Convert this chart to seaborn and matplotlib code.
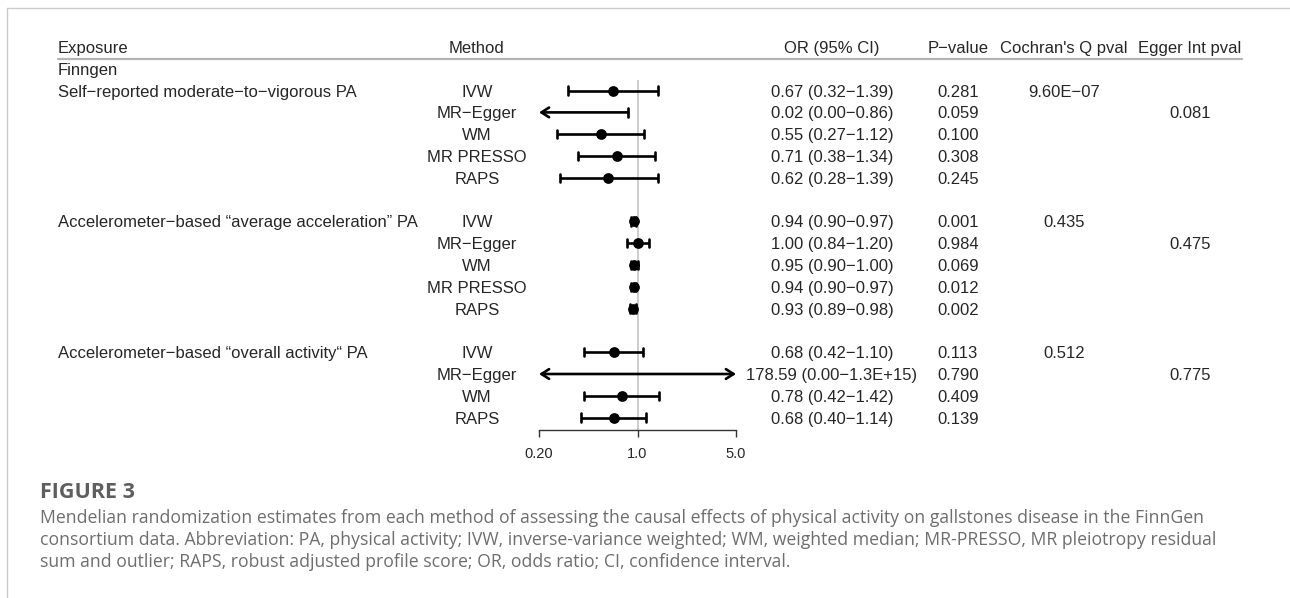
import numpy as np
import pandas as pd
import matplotlib.pyplot as plt
import seaborn as sns
from matplotlib.lines import Line2D
from matplotlib.transforms import blended_transform_factory

# Daten aus der Abbildung (Forest-Plot, MR-Schätzer)
exposures = ["Self\u2212reported moderate\u2212to\u2212vigorous PA",
             "Accelerometer\u2212based \u201caverage acceleration\u201d PA",
             "Accelerometer\u2212based \u201coverall activity\u201c PA"]
methods = [["IVW", "MR\u2212Egger", "WM", "MR PRESSO", "RAPS"],
           ["IVW", "MR\u2212Egger", "WM", "MR PRESSO", "RAPS"],
           ["IVW", "MR\u2212Egger", "WM", "RAPS"]]
or_vals = [[0.67, 0.02, 0.55, 0.71, 0.62],
           [0.94, 1.00, 0.95, 0.94, 0.93],
           [0.68, 178.59, 0.78, 0.68]]
ci_low = [[0.32, 0.00, 0.27, 0.38, 0.28],
          [0.90, 0.84, 0.90, 0.90, 0.89],
          [0.42, 0.00, 0.42, 0.40]]
ci_high = [[1.39, 0.86, 1.12, 1.34, 1.39],
           [0.97, 1.20, 1.00, 0.97, 0.98],
           [1.10, 1.3e15, 1.42, 1.14]]
ci_labels = [["0.67 (0.32\u22121.39)", "0.02 (0.00\u22120.86)", "0.55 (0.27\u22121.12)",
              "0.71 (0.38\u22121.34)", "0.62 (0.28\u22121.39)"],
             ["0.94 (0.90\u22120.97)", "1.00 (0.84\u22121.20)", "0.95 (0.90\u22121.00)",
              "0.94 (0.90\u22120.97)", "0.93 (0.89\u22120.98)"],
             ["0.68 (0.42\u22121.10)", "178.59 (0.00\u22121.3E+15)", "0.78 (0.42\u22121.42)",
              "0.68 (0.40\u22121.14)"]]
p_values = [["0.281", "0.059", "0.100", "0.308", "0.245"],
            ["0.001", "0.984", "0.069", "0.012", "0.002"],
            ["0.113", "0.790", "0.409", "0.139"]]
cochran_q = ["9.60E\u221207", "0.435", "0.512"]
egger_int = ["0.081", "0.475", "0.775"]
x_ticks = [0.2, 1.0, 5.0]
x_ticklabels = ["0.20", "1.0", "5.0"]

# Tabelle zusammenbauen: jede Gruppe beginnt in einer eigenen Zeile
rows = []
start = 2
for g in range(len(exposures)):
    for i, m in enumerate(methods[g]):
        rows.append({"group": g, "row": start + i, "method": m, "or": or_vals[g][i],
                     "lo": ci_low[g][i], "hi": ci_high[g][i],
                     "label": ci_labels[g][i], "p": p_values[g][i]})
    start += len(methods[g]) + 1
df = pd.DataFrame(rows)
group_start = df.groupby("group")["row"].min().values

W, H = 1290, 598
sns.set_style("white")
plt.rcParams["font.family"] = ["Liberation Sans", "DejaVu Sans"]
fs = 12.0

fig = plt.figure(figsize=(W / 100, H / 100), dpi=100)
ax = fig.add_axes([539 / W, 1 - 430 / H, (736 - 539) / W, (430 - 47) / H])
xmin, xmax = 0.2, 5.0
ax.set_xscale("log")
ax.set_xlim(xmin, xmax)
ax.set_ylim((430 - 47) / 21.8, 0)
ax.patch.set_alpha(0)
for s in ["top", "left", "right"]:
    ax.spines[s].set_visible(False)
ax.spines["bottom"].set_color("#333333")
ax.spines["bottom"].set_linewidth(1.0)
ax.set_xticks(x_ticks)
ax.set_xticklabels(x_ticklabels)
ax.minorticks_off()
ax.tick_params(axis="x", direction="out", length=5, width=1, color="#333333",
               labelsize=10.5, pad=7, bottom=True)
ax.set_yticks([])

# Referenzlinie bei OR = 1
ax.vlines(1.0, 1.5, ax.get_ylim()[0], color="#c8c8c8", lw=1.3, zorder=0)

cap = 0.19
for _, r in df.iterrows():
    x0 = max(r["lo"], xmin)
    x1 = min(r["hi"], xmax)
    left_out = r["lo"] < xmin
    right_out = r["hi"] > xmax
    if left_out or right_out:
        style = "<->" if (left_out and right_out) else ("<-" if left_out else "->")
        ax.annotate("", xy=(x1, r["row"]), xytext=(x0, r["row"]),
                    arrowprops=dict(arrowstyle=style + ",head_length=0.55,head_width=0.35",
                                    color="black", lw=1.9, shrinkA=0, shrinkB=0))
    else:
        ax.plot([x0, x1], [r["row"], r["row"]], color="black", lw=1.9, solid_capstyle="butt")
    if not left_out:
        ax.plot([x0, x0], [r["row"] - cap, r["row"] + cap], color="black", lw=1.9)
    if not right_out:
        ax.plot([x1, x1], [r["row"] - cap, r["row"] + cap], color="black", lw=1.9)

inside = df[(df["or"] >= xmin) & (df["or"] <= xmax)]
sns.scatterplot(data=inside, x="or", y="row", color="black", s=60, edgecolor="black",
                linewidth=0, ax=ax, zorder=5, legend=False)
ax.set_xlabel("")
ax.set_ylabel("")

# Tabellenspalten
tr = blended_transform_factory(fig.transFigure, ax.transData)
col_x = {"exp": 58, "method": 477, "or": 832, "p": 958, "q": 1064, "egger": 1190}
va = "center_baseline"
headers = [("Exposure", "exp", "left"), ("Method", "method", "center"),
           ("OR (95% CI)", "or", "center"), ("P\u2212value", "p", "center"),
           ("Cochran's Q pval", "q", "center"), ("Egger Int pval", "egger", "center")]
for txt, c, ha in headers:
    ax.text(col_x[c] / W, 0, txt, transform=tr, ha=ha, va=va, fontsize=fs)
ax.text(col_x["exp"] / W, 1, "Finngen", transform=tr, ha="left", va=va, fontsize=fs)

for g, name in enumerate(exposures):
    ax.text(col_x["exp"] / W, group_start[g], name, transform=tr, ha="left", va=va, fontsize=fs)
    ax.text(col_x["q"] / W, group_start[g], cochran_q[g], transform=tr, ha="center", va=va, fontsize=fs)
    ax.text(col_x["egger"] / W, group_start[g] + 1, egger_int[g], transform=tr, ha="center", va=va, fontsize=fs)

for _, r in df.iterrows():
    ax.text(col_x["method"] / W, r["row"], r["method"], transform=tr, ha="center", va=va, fontsize=fs)
    ax.text(col_x["or"] / W, r["row"], r["label"], transform=tr, ha="center", va=va, fontsize=fs)
    ax.text(col_x["p"] / W, r["row"], r["p"], transform=tr, ha="center", va=va, fontsize=fs)

# Linie unter der Kopfzeile und Rahmen
fig.add_artist(Line2D([58 / W, 1242 / W], [1 - 58.5 / H, 1 - 58.5 / H], color="#b4b4b4", lw=1.6))
fig.add_artist(Line2D([7 / W, 1], [1 - 8 / H, 1 - 8 / H], color="#cccccc", lw=1.0))
fig.add_artist(Line2D([7 / W, 7 / W], [0, 1 - 8 / H], color="#cccccc", lw=1.0))

# Bildunterschrift
cap_font = ["Open Sans", "DejaVu Sans"]
fig.text(40 / W, 1 - 492 / H, "FIGURE 3", ha="left", va="center", fontsize=15.5,
         family=cap_font, fontweight="bold", color="#5e5e5e")
caption = ["Mendelian randomization estimates from each method of assessing the causal effects of physical activity on gallstones disease in the FinnGen",
           "consortium data. Abbreviation: PA, physical activity; IVW, inverse-variance weighted; WM, weighted median; MR-PRESSO, MR pleiotropy residual",
           "sum and outlier; RAPS, robust adjusted profile score; OR, odds ratio; CI, confidence interval."]
for i, line in enumerate(caption):
    fig.text(40 / W, 1 - (518 + 22 * i) / H, line, ha="left", va="center", fontsize=12.7,
             family=cap_font, color="#6e6e6e")

fig.savefig("out.png", dpi=100)
